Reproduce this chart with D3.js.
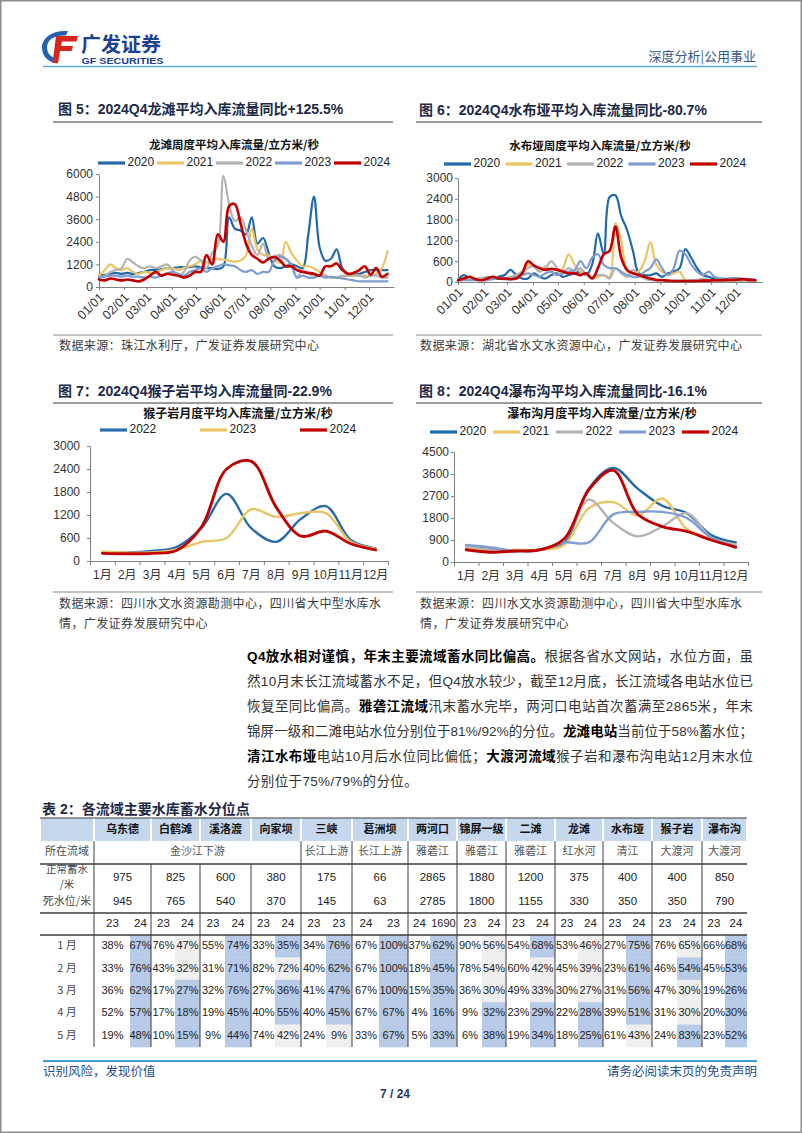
<!DOCTYPE html>
<html><head><meta charset="utf-8">
<script src="https://cdn.jsdelivr.net/npm/d3@7"></script>
<style>
body{margin:0;background:#fff;}
svg{display:block;}
</style></head><body>
<svg id="page" width="802" height="1133"></svg>
<script>
// ---------------- DATA ----------------
const monthTicks = ["01/01","02/01","03/01","04/01","05/01","06/01","07/01","08/01","09/01","10/01","11/01","12/01"];
const monthStartDay = [0,31,59,90,120,151,181,212,243,273,304,334];
const weekDay = d3.range(52).map(i => i * 7); // weekly sample positions (day of year)
const yearsA = ["2020","2021","2022","2023","2024"];
const yearsB = ["2022","2023","2024"];
const monthCats = ["1月","2月","3月","4月","5月","6月","7月","8月","9月","10月","11月","12月"];

// 龙滩 weekly inflow (m3/s)
const longtan2020 = [600,650,700,750,700,750,700,750,800,900,900,950,1000,1000,1050,1050,1050,1100,1050,1000,1000,950,1100,3700,3100,3000,2800,3700,2300,2600,1800,1100,1000,1100,1200,1100,1000,2800,4800,2100,1400,1500,2000,1000,700,650,700,800,900,900,900,900];
const longtan2021 = [600,900,1200,1000,900,1000,800,700,800,750,800,900,1000,1000,900,1000,1100,1200,1400,1300,1500,1500,1450,1400,1350,1400,1700,3100,2000,1700,1700,1400,1300,2400,1800,1400,1100,1100,1000,800,600,500,500,500,600,600,600,600,600,700,1000,1900];
const longtan2022 = [500,600,800,900,1000,1500,1300,1100,1000,1100,1000,1100,1200,900,600,800,1400,1600,1400,1000,1800,2200,5900,4400,3500,3700,3000,2200,1700,2300,1500,1600,1700,1500,1100,500,900,700,600,600,600,500,500,600,600,600,600,500,600,600,500,500];
const longtan2023 = [500,550,600,600,550,600,550,550,500,550,500,600,700,800,700,600,800,900,1000,800,1000,1100,1200,1150,1100,900,800,900,700,800,800,1400,1600,1500,1200,500,600,500,500,600,500,550,500,450,400,350,300,300,300,300,300,300];
const longtan2024 = [400,350,450,400,350,400,350,300,400,600,800,600,700,650,600,500,600,800,800,1700,1200,2800,2400,4300,4400,3400,2300,1700,1500,1300,1500,1600,1400,1100,1100,900,800,750,700,600,1100,1100,1250,900,700,750,900,1100,650,1000,550,700];

// 水布垭 weekly inflow (m3/s)
const shuibuya2020 = [50,200,100,80,100,100,80,150,200,350,200,100,100,250,150,100,200,250,150,200,250,300,200,500,1400,800,2450,2500,1900,1500,900,250,200,200,250,150,250,300,400,950,700,400,200,150,100,100,80,100,100,80,80,60];
const shuibuya2021 = [50,80,100,100,80,100,150,100,80,100,100,200,500,450,300,450,300,200,400,800,500,300,250,100,150,200,150,1700,1200,300,250,300,600,1150,500,300,200,250,300,50,30,30,30,30,40,40,30,30,30,40,40,30];
const shuibuya2022 = [50,60,80,100,100,150,100,100,100,150,200,300,400,450,300,400,600,400,300,400,300,400,200,150,200,200,100,400,250,150,350,200,100,50,50,50,40,40,40,40,50,60,100,60,50,40,40,40,40,40,40,40];
const shuibuya2023 = [50,50,50,50,50,50,100,100,80,100,150,200,250,200,150,250,300,200,250,300,350,600,400,700,800,500,400,400,300,200,150,150,300,400,650,400,200,400,900,800,500,300,200,300,150,100,100,100,100,100,80,50];
const shuibuya2024 = [50,100,150,80,50,100,150,100,100,80,100,250,600,480,400,350,380,350,300,250,250,200,250,100,400,800,900,1600,700,350,250,200,150,100,60,50,40,30,30,30,30,30,40,40,50,50,60,60,70,80,60,50];

// 猴子岩 monthly inflow (m3/s)
const houziyan2022 = [230,220,260,370,870,1750,850,500,1100,1430,550,330];
const houziyan2023 = [250,220,220,300,500,600,1350,1150,1250,1250,500,320];
const houziyan2024 = [200,190,200,280,900,2400,2600,1400,650,780,450,290];

// 瀑布沟 monthly inflow (m3/s)
const pubugou2020 = [600,550,450,500,800,3000,3850,3000,2300,2000,1100,800];
const pubugou2021 = [600,450,500,500,700,2200,2450,1900,2600,1350,950,700];
const pubugou2022 = [650,500,450,500,900,2550,1600,1050,1450,2000,1000,650];
const pubugou2023 = [700,600,450,500,800,800,1950,2050,2050,1800,1000,650];
const pubugou2024 = [500,400,450,500,950,2950,3750,1950,1450,1250,900,600];

const yTicksLongtan = [0,1200,2400,3600,4800,6000];
const yTicksShuibuya = [0,600,1200,1800,2400,3000];
const yTicksHouziyan = [0,600,1200,1800,2400,3000];
const yTicksPubugou = [0,900,1800,2700,3600,4500];

// Table 2
const stations = ["乌东德","白鹤滩","溪洛渡","向家坝","三峡","葛洲坝","两河口","锦屏一级","二滩","龙滩","水布垭","猴子岩","瀑布沟"];
const basinGroups = [["金沙江下游",4],["长江上游",1],["长江上游",1],["雅砻江",1],["雅砻江",1],["雅砻江",1],["红水河",1],["清江",1],["大渡河",1],["大渡河",1]];
const normalLevel = ["975","825","600","380","175","66","2865","1880","1200","375","400","400","850"];
const deadLevel = ["945","765","540","370","145","63","2785","1800","1155","330","350","350","790"];
const yearHdr = [["23","24"],["23","24"],["23","24"],["23","24"],["23","23"],["24","23"],["24","1690"],["23","24"],["23","24"],["23","24"],["23","24"],["23","24"],["23","24"]];
const rowLabels = ["1 月","2 月","3 月","4 月","5 月"];
const pct23 = [[38,33,36,52,19],[76,43,17,17,10],[55,31,32,19,9],[33,82,27,40,74],[34,40,41,40,24],[67,67,67,67,33],[37,18,15,4,5],[90,78,36,9,6],[54,60,49,23,19],[53,45,30,22,18],[27,23,31,39,61],[76,46,47,31,24],[66,45,19,20,23]];
const pct24 = [[67,76,62,57,48],[47,32,27,18,15],[74,71,76,45,44],[35,72,36,55,42],[76,62,47,45,9],[100,100,100,67,67],[62,45,35,16,33],[56,54,30,32,38],[68,42,33,29,34],[46,39,27,28,25],[75,61,56,51,43],[65,54,30,30,83],[68,53,26,30,52]];

// ---------------- STYLE ----------------
const LAT = "'Liberation Sans', Arial, 'Noto Sans CJK SC', sans-serif";
const CJK = "'Noto Sans CJK SC', 'Liberation Sans', sans-serif";
const colA = {"2020":"#2169a9","2021":"#e9c566","2022":"#b3b3b3","2023":"#7f9dd0","2024":"#c00000"};
const colB = {"2022":"#2b6cab","2023":"#e9c566","2024":"#c00000"};
const TITLE_C = "#1d2a47";

const svg = d3.select("#page");
svg.append("rect").attr("x",0.75).attr("y",0.75).attr("width",800.5).attr("height",1131.5)
  .attr("fill","#fff").attr("stroke","#8c8c8c").attr("stroke-width",1.5);

// ---------------- HEADER ----------------
const hd = svg.append("g");
hd.append("path").attr("d","M68,31 C52,30 42,38 42,47.5 C42,56 48,62 57,63.5 L58.5,59 C51.5,58 47,53.5 47,47.5 C47,40 54,35 66,35.5 Z").attr("fill","#2461b3");
hd.append("path").attr("d","M56,36 L78,36 L76.5,41.5 L62,41.5 L61,46 L73,46 L71.5,51 L60,51 L58,63 L52.5,63 Z").attr("fill","#d8261d");
hd.append("text").attr("x",81).attr("y",51.5).text("广发证券")
  .attr("font-family",CJK).attr("font-weight",700).attr("font-size",20).attr("fill","#1c4193");
hd.append("text").attr("x",81.5).attr("y",64).text("GF SECURITIES")
  .attr("font-family",LAT).attr("font-weight",700).attr("font-size",8.5).attr("fill","#1c4193")
  .attr("textLength",82).attr("lengthAdjust","spacingAndGlyphs");
hd.append("text").attr("x",756).attr("y",61).attr("text-anchor","end").text("深度分析|公用事业")
  .attr("font-family",CJK).attr("font-size",13).attr("fill","#35588c");
hd.append("line").attr("x1",43).attr("x2",757).attr("y1",66.5).attr("y2",66.5)
  .attr("stroke","#59a8df").attr("stroke-width",1.6);

// ---------------- CHART HELPER ----------------
function drawChart(c) {
  const g = svg.append("g");
  g.append("text").attr("x",c.titleX).attr("y",c.titleY).attr("dominant-baseline","middle")
    .text(c.title).attr("font-family",LAT).attr("font-weight",700).attr("font-size",14).attr("fill",TITLE_C);
  g.append("line").attr("x1",c.bx0).attr("x2",c.bx1).attr("y1",c.ruleY).attr("y2",c.ruleY)
    .attr("stroke","#3a3a3a").attr("stroke-width",1);
  g.append("text").attr("x",c.subX).attr("y",c.subY).attr("text-anchor","middle").attr("dominant-baseline","middle")
    .text(c.subtitle).attr("font-family",CJK).attr("font-weight",700).attr("font-size",c.subSize).attr("fill","#111");
  // legend
  c.years.forEach((yr,i) => {
    const lx = c.legX + i * c.legStep;
    g.append("line").attr("x1",lx).attr("x2",lx+27).attr("y1",c.legY).attr("y2",c.legY)
      .attr("stroke",c.colors[yr]).attr("stroke-width",3.2);
    g.append("text").attr("x",lx+29.5).attr("y",c.legY).attr("dominant-baseline","middle").text(yr)
      .attr("font-family",LAT).attr("font-size",12).attr("fill","#222");
  });
  // axes
  const yAx = g.append("g").attr("transform",`translate(${c.x.range()[0]},0)`)
    .call(d3.axisLeft(c.y).tickValues(c.yTicks).tickFormat(d3.format("d")).tickSize(3).tickSizeOuter(0).tickPadding(c.yPad));
  yAx.selectAll("text").attr("font-family",LAT).attr("font-size",12).attr("fill","#333");
  yAx.selectAll("line,path").attr("stroke","#808080");
  const y0 = c.y(0);
  if (c.type === "week") {
    const xAx = g.append("g").attr("transform",`translate(0,${y0})`)
      .call(d3.axisBottom(c.x).tickValues(monthStartDay).tickFormat((d,i)=>monthTicks[i]).tickSize(3).tickSizeOuter(0));
    xAx.selectAll("text").attr("text-anchor","end").attr("x",0).attr("y",0).attr("dy","0.35em")
      .attr("transform","translate(2,8) rotate(-45)")
      .attr("font-family",LAT).attr("font-size",12.5).attr("fill","#333");
    xAx.selectAll("line,path").attr("stroke","#808080");
  } else {
    const r = c.x.range();
    const edge = d3.scaleLinear().domain([0,12]).range(r);
    const tAx = g.append("g").attr("transform",`translate(0,${y0})`)
      .call(d3.axisBottom(edge).ticks(12).tickFormat("").tickSize(4).tickSizeOuter(0));
    tAx.selectAll("line,path").attr("stroke","#808080");
    const lAx = g.append("g").attr("transform",`translate(0,${y0})`)
      .call(d3.axisBottom(c.x).tickSize(0).tickPadding(c.xPad));
    lAx.select("path").remove();
    lAx.selectAll("text").attr("font-family",LAT).attr("font-size",12).attr("fill","#333");
  }
  // series
  const px = c.type === "week" ? ((d,i)=>c.x(weekDay[i])) : ((d,i)=>c.x(monthCats[i]) + c.x.bandwidth()/2);
  const line = d3.line().x(px).y(d=>c.y(d)).curve(d3.curveCatmullRom.alpha(0.5));
  c.years.forEach((yr,i) => {
    g.append("path").attr("d",line(c.series[i])).attr("fill","none")
      .attr("stroke",c.colors[yr]).attr("stroke-width", yr==="2024" ? c.lw*1.2 : c.lw)
      .attr("stroke-linejoin","round").attr("stroke-linecap","round");
  });
  // source
  g.append("line").attr("x1",c.bx0).attr("x2",c.bx1).attr("y1",c.srcRule).attr("y2",c.srcRule)
    .attr("stroke","#8a8a8a").attr("stroke-width",1);
  c.source.forEach((s,i) => {
    g.append("text").attr("x",c.titleX+1).attr("y",c.srcY + i*19.5).attr("dominant-baseline","middle").text(s)
      .attr("font-family",CJK).attr("font-size",12).attr("letter-spacing",0.4).attr("fill","#3c3c3c");
  });
}

// Chart 5 龙滩
drawChart({
  type:"week", title:"图  5：2024Q4龙滩平均入库流量同比+125.5%", titleX:58, titleY:110, bx0:53, bx1:393, ruleY:122,
  subtitle:"龙滩周度平均入库流量/立方米/秒", subX:234, subY:146, subSize:11.5,
  years:yearsA, colors:colA, legX:98, legStep:59, legY:163,
  x:d3.scaleLinear().domain([0,365]).range([99,394]),
  y:d3.scaleLinear().domain([0,6000]).range([287,174]), yTicks:yTicksLongtan, yPad:3,
  series:[longtan2020,longtan2021,longtan2022,longtan2023,longtan2024], lw:2.2,
  srcRule:335, srcY:347, source:["数据来源：珠江水利厅，广发证券发展研究中心"]
});
// Chart 6 水布垭
drawChart({
  type:"week", title:"图  6：2024Q4水布垭平均入库流量同比-80.7%", titleX:419, titleY:111, bx0:416, bx1:762, ruleY:122,
  subtitle:"水布垭周度平均入库流量/立方米/秒", subX:600, subY:147, subSize:11.5,
  years:yearsA, colors:colA, legX:444, legStep:61.5, legY:164,
  x:d3.scaleLinear().domain([0,365]).range([458,762]),
  y:d3.scaleLinear().domain([0,3000]).range([282,178]), yTicks:yTicksShuibuya, yPad:2,
  series:[shuibuya2020,shuibuya2021,shuibuya2022,shuibuya2023,shuibuya2024], lw:2.2,
  srcRule:335, srcY:347, source:["数据来源：湖北省水文水资源中心，广发证券发展研究中心"]
});
// Chart 7 猴子岩
drawChart({
  type:"month", title:"图  7：2024Q4猴子岩平均入库流量同-22.9%", titleX:58, titleY:392, bx0:53, bx1:393, ruleY:403,
  subtitle:"猴子岩月度平均入库流量/立方米/秒", subX:238, subY:415, subSize:12,
  years:yearsB, colors:colB, legX:100, legStep:100, legY:430,
  x:d3.scaleBand().domain(monthCats).range([90,388]).padding(0), xPad:9,
  y:d3.scaleLinear().domain([0,3000]).range([561,446]), yTicks:yTicksHouziyan, yPad:7,
  series:[houziyan2022,houziyan2023,houziyan2024], lw:2.4,
  srcRule:592, srcY:605, source:["数据来源：四川水文水资源勘测中心，四川省大中型水库水","情，广发证券发展研究中心"]
});
// Chart 8 瀑布沟
drawChart({
  type:"month", title:"图  8：2024Q4瀑布沟平均入库流量同比-16.1%", titleX:419, titleY:392, bx0:416, bx1:762, ruleY:403,
  subtitle:"瀑布沟月度平均入库流量/立方米/秒", subX:602, subY:415, subSize:12,
  years:yearsA, colors:colA, legX:430, legStep:63, legY:432,
  x:d3.scaleBand().domain(monthCats).range([454,748]).padding(0), xPad:9,
  y:d3.scaleLinear().domain([0,4500]).range([562,452]), yTicks:yTicksPubugou, yPad:2,
  series:[pubugou2020,pubugou2021,pubugou2022,pubugou2023,pubugou2024], lw:2.4,
  srcRule:592, srcY:605, source:["数据来源：四川水文水资源勘测中心，四川省大中型水库水","情，广发证券发展研究中心"]
});

// ---------------- PARAGRAPH ----------------
const paraLines = [
  [["Q4放水相对谨慎，年末主要流域蓄水同比偏高。",1],["根据各省水文网站，水位方面，虽",0]],
  [["然10月末长江流域蓄水不足，但Q4放水较少，截至12月底，长江流域各电站水位已",0]],
  [["恢复至同比偏高。",0],["雅砻江流域",1],["汛末蓄水完毕，两河口电站首次蓄满至2865米，年末",0]],
  [["锦屏一级和二滩电站水位分别位于81%/92%的分位。",0],["龙滩电站",1],["当前位于58%蓄水位；",0]],
  [["清江水布垭",1],["电站10月后水位同比偏低；",0],["大渡河流域",1],["猴子岩和瀑布沟电站12月末水位",0]],
  [["分别位于75%/79%的分位。",0]]
];
const paraX = 247, paraW = 506;
let spacings = [];
paraLines.forEach((segs, li) => {
  const t = svg.append("text").attr("x",paraX).attr("y",657 + li*25).attr("dominant-baseline","middle")
    .attr("font-family",LAT).attr("font-size",13.5);
  segs.forEach(([s,b]) => t.append("tspan").text(s).attr("font-weight",b?700:400).attr("fill",b?"#000":"#333"));
  const n = segs.reduce((a,[s])=>a+[...s].length,0);
  const L = t.node().getComputedTextLength();
  if (li < paraLines.length-1) {
    const sp = (paraW - L) / (n - 1);
    spacings.push(sp);
    t.attr("letter-spacing", sp);
  } else {
    t.attr("letter-spacing", d3.mean(spacings));
  }
});

// ---------------- TABLE ----------------
const B = [40,94,151,200,251,301,352,408,457,506,555,603,652,702,747];
const S = [130,175,225,275,326,379,430,482,530,578,626,677,725];
const T = svg.append("g");
T.append("text").attr("x",42).attr("y",810).attr("dominant-baseline","middle").text("表 2：各流域主要水库蓄水分位点")
  .attr("font-family",LAT).attr("font-weight",700).attr("font-size",14).attr("fill",TITLE_C);
const hTop = 818, hBot = 841, basinBot = 864, normBot = 891, deadBot = 913, yrBot = 935, rowH = 22.4;
const dataBot = yrBot + rowH * rowLabels.length;
// header cells
for (let i=0;i<14;i++) {
  T.append("rect").attr("x",B[i]+1).attr("y",hTop).attr("width",B[i+1]-B[i]-2).attr("height",hBot-hTop).attr("fill","#c6d8ee");
}
stations.forEach((s,j)=>{
  T.append("text").attr("x",(B[j+1]+B[j+2])/2).attr("y",(hTop+hBot)/2+0.5).attr("text-anchor","middle").attr("dominant-baseline","middle")
    .text(s).attr("font-family",CJK).attr("font-weight",700).attr("font-size",11).attr("fill","#111");
});
// shading of data cells
stations.forEach((s,j)=>{
  pct24[j].forEach((v,r)=>{
    T.append("rect").attr("x",S[j]).attr("y",yrBot + r*rowH).attr("width",B[j+2]-S[j]).attr("height",rowH+0.3)
      .attr("fill", v >= pct23[j][r] ? "#b7cae7" : "#efefef");
  });
});
// label column
const lblX = 67;
const lbl = (txt,y,sz)=>T.append("text").attr("x",lblX).attr("y",y).attr("text-anchor","middle").attr("dominant-baseline","middle")
  .text(txt).attr("font-family",CJK).attr("font-size",sz||11).attr("fill","#4a4a4a");
lbl("所在流域",(hBot+basinBot)/2);
lbl("正常蓄水",870,10.5); lbl("/米",885,10.5);
lbl("死水位/米",(normBot+deadBot)/2);
rowLabels.forEach((l,r)=>lbl(l,yrBot + r*rowH + rowH/2));
// basin row
let ci = 1;
basinGroups.forEach(([name,span])=>{
  const x0 = B[ci], x1 = B[ci+span];
  T.append("text").attr("x",(x0+x1)/2).attr("y",(hBot+basinBot)/2).attr("text-anchor","middle").attr("dominant-baseline","middle")
    .text(name).attr("font-family",CJK).attr("font-size",11).attr("fill","#555");
  ci += span;
});
// level rows & year header & data
const num = (txt,x,y,sz)=>T.append("text").attr("x",x).attr("y",y).attr("text-anchor","middle").attr("dominant-baseline","middle")
  .text(txt).attr("font-family",LAT).attr("font-size",sz||11.5).attr("fill","#222");
stations.forEach((s,j)=>{
  const cx = (B[j+1]+B[j+2])/2;
  num(normalLevel[j], cx, (basinBot+normBot)/2);
  num(deadLevel[j], cx, (normBot+deadBot)/2);
  const c23 = (B[j+1]+S[j])/2 + 0.5, c24 = (S[j]+B[j+2])/2;
  num(yearHdr[j][0], c23, (deadBot+yrBot)/2);
  num(yearHdr[j][1], c24, (deadBot+yrBot)/2, yearHdr[j][1].length>2 ? 11 : 11.5);
  rowLabels.forEach((l,r)=>{
    const yy = yrBot + r*rowH + rowH/2;
    num(pct23[j][r]+"%", c23, yy, 11);
    num(pct24[j][r]+"%", c24, yy, 11);
  });
});
// lines
[hTop, basinBot, deadBot, yrBot].forEach((yy,k)=>{
  T.append("line").attr("x1",40).attr("x2",747).attr("y1",yy).attr("y2",yy)
    .attr("stroke","#3d3d3d").attr("stroke-width",k===0?1:1.3);
});
for (let k=1;k<=13;k++) {
  const merged = (k>=2 && k<=4);
  T.append("line").attr("x1",B[k]).attr("x2",B[k]).attr("y1",merged?basinBot:hBot).attr("y2",dataBot)
    .attr("stroke","#3d3d3d").attr("stroke-width",1);
}

// ---------------- FOOTER ----------------
svg.append("line").attr("x1",43).attr("x2",757).attr("y1",1061).attr("y2",1061).attr("stroke","#3c9bd9").attr("stroke-width",2);
svg.append("text").attr("x",43).attr("y",1073).attr("dominant-baseline","middle").text("识别风险，发现价值")
  .attr("font-family",CJK).attr("font-size",12.5).attr("fill","#1f4e8c");
svg.append("text").attr("x",757).attr("y",1073).attr("text-anchor","end").attr("dominant-baseline","middle").text("请务必阅读末页的免责声明")
  .attr("font-family",CJK).attr("font-size",12.5).attr("fill","#1f4e8c");
svg.append("text").attr("x",395).attr("y",1095).attr("text-anchor","middle").attr("dominant-baseline","middle").text("7 / 24")
  .attr("font-family",LAT).attr("font-weight",700).attr("font-size",12).attr("fill","#1f3a68");
</script></body></html>
